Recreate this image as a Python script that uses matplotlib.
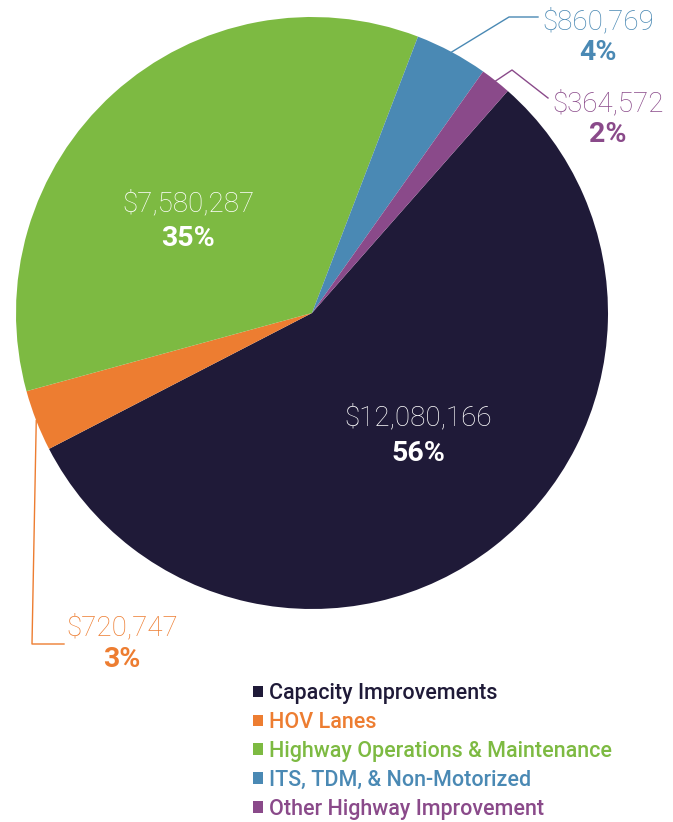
import matplotlib.pyplot as plt
import numpy as np

# data
names = ['Capacity Improvements', 'HOV Lanes', 'Highway Operations & Maintenance',
         'ITS, TDM, & Non-Motorized', 'Other Highway Improvement']
amounts = [12080166, 720747, 7580287, 860769, 364572]
pct_labels = ['56%', '3%', '35%', '4%', '2%']
colors = ['#1f1a38', '#ed7d31', '#7dba42', '#4a89b4', '#8a4a8a']

plt.rcParams['font.family'] = ['Roboto', 'DejaVu Sans']

fig = plt.figure(figsize=(6.73, 8.22), dpi=100)
ax = fig.add_axes([0, 0, 1, 1])

cx, cy, r = 312, 822 - 313, 296
wedges, _ = ax.pie(amounts, colors=colors, startangle=48.6, counterclock=False,
                   center=(cx, cy), radius=r, frame=True,
                   wedgeprops=dict(linewidth=0))
ax.set_xlim(0, 673)
ax.set_ylim(0, 822)
ax.set_aspect('equal')
ax.axis('off')

money = ['$' + format(a, ',') for a in amounts]

# inside labels (capacity, highway ops)
inside = {0: (418, 418), 2: (188, 204)}
for i, (x, y) in inside.items():
    ax.text(x, 822 - y, money[i], color='white', fontsize=20, fontweight='light',
            ha='center', va='center')
    ax.text(x, 822 - y - 35, pct_labels[i], color='white', fontsize=20.5,
            fontweight='bold', ha='center', va='center')

# outside labels with leader lines: (elbow, line end, text pos)
outside = {
    3: ((509, 17), (538, 17), (598, 22)),
    4: ((512, 70), (548, 98), (608, 104)),
    1: ((32, 644), (64, 644), (122, 628)),
}
for i, (elbow, end, tpos) in outside.items():
    w = wedges[i]
    mid = np.deg2rad((w.theta1 + w.theta2) / 2)
    sx, sy = cx + r * np.cos(mid), cy + r * np.sin(mid)
    ax.plot([sx, elbow[0], end[0]], [sy, 822 - elbow[1], 822 - end[1]],
            color=colors[i], lw=1)
    ax.text(tpos[0], 822 - tpos[1], money[i], color=colors[i], fontsize=20,
            fontweight='light', ha='center', va='center')
    ax.text(tpos[0], 822 - tpos[1] - 31, pct_labels[i], color=colors[i],
            fontsize=20.5, fontweight='bold', ha='center', va='center')

leg = ax.legend(wedges, names, loc='upper left', bbox_to_anchor=(253 / 673, 1 - 683 / 822),
                frameon=False, fontsize=15.5, labelcolor=colors, handlelength=0.45,
                handleheight=0.45, handletextpad=0.3, labelspacing=0.37,
                borderaxespad=0, borderpad=0)
for t in leg.get_texts():
    t.set_fontweight('medium')

fig.savefig('out.png', dpi=100)
